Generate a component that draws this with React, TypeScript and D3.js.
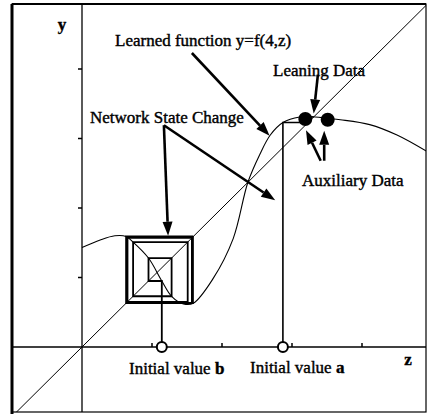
import * as d3 from 'd3'

// learned function f(4, z)
const curveZ = [0, 0.26, 0.47, 0.63, 0.73, 0.95, 1.14, 1.28, 1.45, 1.59, 1.87, 2.16, 2.37, 2.54, 2.69, 2.87, 3.11, 3.33, 3.51, 3.69, 4.11, 4.5, 4.95]
const curveY = [1.43, 1.54, 1.6, 1.59, 1.51, 1.28, 0.95, 0.73, 0.62, 0.63, 0.98, 1.56, 2.37, 2.77, 3.05, 3.23, 3.31, 3.31, 3.29, 3.27, 3.2, 3.05, 2.8]

// iterates z(k+1) = f(z(k)) starting from the two initial values
const cobwebB = [1.14, 0.95, 1.28, 0.73, 1.51, 0.65, 1.57, 0.635, 1.585, 0.63, 1.59]
const cobwebA = [2.87, 3.23, 3.31]

const xTicks = [1, 2, 3, 4]
const yTicks = [1, 2, 3, 4]

// big dots: learning data and auxiliary data
const dotZ = [3.19, 3.51]
const dotY = [3.28, 3.27]

const W = 427
const H = 414
const FONT = '"Liberation Serif", "Times New Roman", serif'

const x = d3.scaleLinear().domain([0, 4]).range([82, 362])
const y = d3.scaleLinear().domain([0, 4]).range([347, 69])

type Arrow = { from: [number, number]; to: [number, number] }
const arrows: Arrow[] = [
  { from: [1.57, 4.23], to: [2.68, 3.04] },   // learned function
  { from: [3.37, 3.92], to: [3.31, 3.36] },   // leaning data
  { from: [1.17, 3.19], to: [1.23, 1.6] },    // network state change -> box
  { from: [1.17, 3.19], to: [2.76, 2.11] },   // network state change -> a path
  { from: [3.41, 2.68], to: [3.2, 3.12] },    // auxiliary
  { from: [3.46, 2.68], to: [3.46, 3.11] },
]

function arrowShapes(a: Arrow, i: number) {
  const x1 = x(a.from[0]), y1 = y(a.from[1])
  const x2 = x(a.to[0]), y2 = y(a.to[1])
  const ang = Math.atan2(y2 - y1, x2 - x1)
  const len = 14, hw = 5
  const bx = x2 - len * Math.cos(ang), by = y2 - len * Math.sin(ang)
  const px = -Math.sin(ang) * hw, py = Math.cos(ang) * hw
  return (
    <g key={i}>
      <line x1={x1} y1={y1} x2={bx} y2={by} stroke="#000" strokeWidth={2.6} />
      <path d={`M${x2},${y2}L${bx + px},${by + py}L${bx - px},${by - py}Z`} fill="#000" />
    </g>
  )
}

function cobwebPath(seq: number[]) {
  const p = d3.path()
  p.moveTo(x(seq[0]), y(0))
  for (let k = 0; k < seq.length - 1; k++) {
    p.lineTo(x(seq[k]), y(seq[k + 1]))
    p.lineTo(x(seq[k + 1]), y(seq[k + 1]))
  }
  return p.toString()
}

export default function App() {
  const pts = curveZ.map((z, i) => [z, curveY[i]] as [number, number])
  const line = d3.line<[number, number]>()
    .x(d => x(d[0])).y(d => y(d[1]))
    .curve(d3.curveCatmullRom.alpha(0.5))
  const fx = 12, fy = 4, fr = 426, fb = 412
  const txt = { fontFamily: FONT, fontSize: 17, fill: '#000', stroke: '#000', strokeWidth: 0.4 }

  return (
    <svg width={W} height={H} style={{ position: 'absolute', left: 0, top: 0, background: '#fff' }}>
      <defs>
        <clipPath id="plot-clip"><rect x={fx} y={fy} width={fr - fx} height={fb - fy} /></clipPath>
      </defs>

      {/* frame */}
      <rect x={fx} y={fy} width={fr - fx} height={fb - fy} fill="none" stroke="#000" strokeWidth={1.2} />
      <line x1={fx} y1={fy} x2={fx} y2={H} stroke="#000" strokeWidth={3} />
      <line x1={fx} y1={fy} x2={fr} y2={fy} stroke="#000" strokeWidth={2} />

      <g clipPath="url(#plot-clip)">
        {/* axes */}
        <line x1={fx} y1={y(0)} x2={W} y2={y(0)} stroke="#000" strokeWidth={1.3} />
        <line x1={x(0)} y1={0} x2={x(0)} y2={H} stroke="#000" strokeWidth={1.3} />
        {xTicks.map(t => (
          <line key={'xt' + t} x1={x(t)} x2={x(t)} y1={y(0)} y2={y(0) - 4} stroke="#000" strokeWidth={1.5} />
        ))}
        {yTicks.map(t => (
          <line key={'yt' + t} x1={x(0)} x2={x(0) - 4} y1={y(t)} y2={y(t)} stroke="#000" strokeWidth={1.5} />
        ))}

        {/* y = z */}
        <line x1={x(-1.2)} y1={y(-1.2)} x2={x(5.2)} y2={y(5.2)} stroke="#000" strokeWidth={1} />

        {/* learned function */}
        <path d={line(pts) || ''} fill="none" stroke="#000" strokeWidth={1.1} />

        {/* network state change */}
        <path d={cobwebPath(cobwebB)} fill="none" stroke="#000" strokeWidth={1.8} />
        <path d={cobwebPath(cobwebA)} fill="none" stroke="#000" strokeWidth={1.6} />

        {/* data dots */}
        {dotZ.map((z, i) => (
          <circle key={'d' + i} cx={x(z)} cy={y(dotY[i])} r={7} fill="#000" />
        ))}

        {/* initial value markers */}
        {[cobwebB[0], cobwebA[0]].map((z, i) => (
          <circle key={'iv' + i} cx={x(z)} cy={y(0)} r={5} fill="#fff" stroke="#000" strokeWidth={2} />
        ))}

        {arrows.map(arrowShapes)}
      </g>

      {/* labels */}
      <text x={62} y={30} {...txt} fontWeight="bold" textAnchor="middle">y</text>
      <text x={408} y={365} {...txt} fontWeight="bold" textAnchor="middle">z</text>
      <text x={115} y={46} {...txt}>Learned function y=f(4,z)</text>
      <text x={273} y={76} {...txt}>Leaning Data</text>
      <text x={90} y={123} {...txt}>Network State Change</text>
      <text x={302} y={186} {...txt}>Auxiliary Data</text>
      <text x={129} y={374} {...txt}>Initial value <tspan fontWeight="bold">b</tspan></text>
      <text x={250} y={373} {...txt}>Initial value <tspan fontWeight="bold">a</tspan></text>
    </svg>
  )
}
